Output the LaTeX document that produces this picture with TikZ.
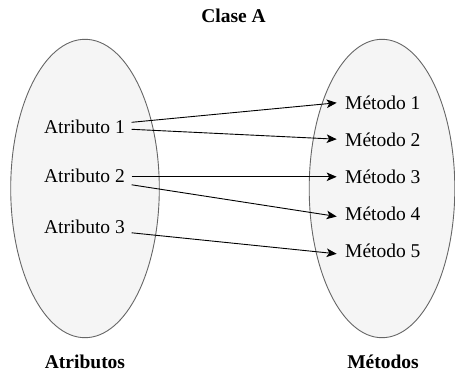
\documentclass[tikz,border=0pt]{standalone}
\usepackage{fontspec}
\setmainfont{Liberation Serif}
\usetikzlibrary{arrows.meta}
\definecolor{setfill}{HTML}{F5F5F5}
\definecolor{setline}{HTML}{666666}
\begin{document}
\begin{tikzpicture}[x=1pt,y=-1pt,
  font=\fontsize{19.5}{23}\selectfont,
  setbox/.style={draw=setline,fill=setfill,line width=0.9pt},
  item/.style={inner ysep=0pt,text height=13pt,text depth=4pt},
  attr/.style={item,inner xsep=6.7pt,anchor=base east},
  meth/.style={item,inner xsep=8.3pt,anchor=base west},
  heading/.style={font=\fontsize{19.5}{23}\selectfont\bfseries,inner sep=0pt,anchor=base},
  link/.style={line width=0.9pt,-{Stealth[length=10pt,width=8.5pt,inset=2.5pt]}}]
\useasboundingbox (0,0) rectangle (455,375);

% the two sets
\draw[setbox] (85,188.5) ellipse [x radius=74.3,y radius=149.2];
\draw[setbox] (382,188.5) ellipse [x radius=72.8,y radius=149.2];

% headings
\node[heading] (title) at (233.6,22) {Clase A};
\node[heading] (lattr) at (85,368.3) {Atributos};
\node[heading] (lmeth) at (383,368.3) {Métodos};

% attributes
\node[attr] (a1) at (131.7,133.3) {Atributo 1};
\node[attr] (a2) at (131.7,182.3) {Atributo 2};
\node[attr] (a3) at (131.7,233.3) {Atributo 3};

% methods
\node[meth] (m1) at (336.7,109.3) {Método 1};
\node[meth] (m2) at (336.7,146.7) {Método 2};
\node[meth] (m3) at (336.7,183.3) {Método 3};
\node[meth] (m4) at (336.7,220.0) {Método 4};
\node[meth] (m5) at (336.7,257.3) {Método 5};

% connections
\draw[link] ([yshift=6.5pt]a1.east) -- ([yshift=2pt]m1.west);
\draw[link] ([yshift=-0.5pt]a1.east) -- ([yshift=3pt]m2.west);
\draw[link] ([yshift=1pt]a2.east) -- ([yshift=2pt]m3.west);
\draw[link] ([yshift=-7pt]a2.east) -- ([yshift=-1pt]m4.west);
\draw[link] ([yshift=-4pt]a3.east) -- ([yshift=-1pt]m5.west);
\end{tikzpicture}
\end{document}
